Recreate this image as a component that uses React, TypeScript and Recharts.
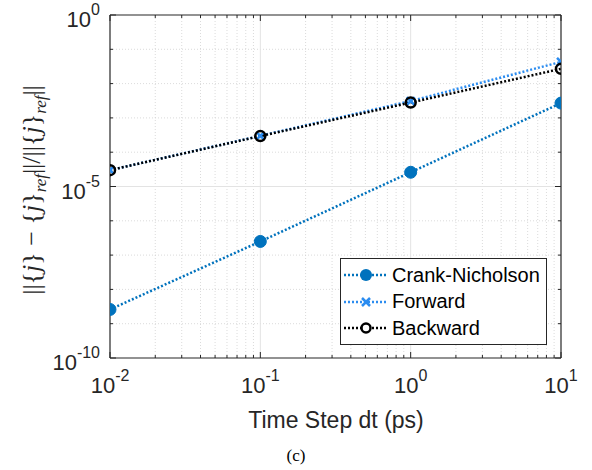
import React from 'react';
import { LineChart, Line, XAxis, YAxis, ReferenceLine } from 'recharts';

const timeSteps = [0.01, 0.1, 1, 10];
const crankNicholson = [2.6e-9, 2.5e-7, 2.6e-5, 2.7e-3];
const forward = [3.0e-5, 3.0e-4, 3.1e-3, 4.3e-2];
const backward = [3.0e-5, 2.95e-4, 2.8e-3, 2.7e-2];

const xMajor = [0.01, 0.1, 1, 10];
const xMinor = [
  0.02, 0.03, 0.04, 0.05, 0.06, 0.07, 0.08, 0.09,
  0.2, 0.3, 0.4, 0.5, 0.6, 0.7, 0.8, 0.9,
  2, 3, 4, 5, 6, 7, 8, 9,
];
const yMajor = [1e-10, 1e-5, 1];
const yMinor = [1e-9, 1e-8, 1e-7, 1e-6, 1e-4, 1e-3, 1e-2, 1e-1];

const rows = timeSteps.map((dt, i) => ({
  dt,
  cn: crankNicholson[i],
  fw: forward[i],
  bw: backward[i],
}));

const AXIS = '#262626';
const CN_COLOR = '#0072BD';
const FW_COLOR = '#2B8CF0';
const BW_COLOR = '#000000';
const FONT = 'Liberation Sans, Arial, sans-serif';
const SERIF = 'Liberation Serif, Times New Roman, serif';

function expOf(v: number) {
  return String(Math.round(Math.log10(v)));
}

function isMajor(v: number, list: number[]) {
  return list.some((m) => Math.abs(Math.log10(m) - Math.log10(v)) < 1e-6);
}

function BottomTick(props: any) {
  const { x, y, payload } = props;
  const major = isMajor(payload.value, xMajor);
  return (
    <g>
      <line x1={x} y1={y} x2={x} y2={y - (major ? 6 : 3)} stroke={AXIS} strokeWidth={1} />
      {major && (
        <text x={x} y={y + 35} textAnchor="middle" fontFamily={FONT} fontSize={22} fill={AXIS}>
          10<tspan dy={-12} fontSize={16}>{expOf(payload.value)}</tspan>
        </text>
      )}
    </g>
  );
}

function TopTick(props: any) {
  const { x, y, payload } = props;
  const major = isMajor(payload.value, xMajor);
  return <line x1={x} y1={y} x2={x} y2={y + (major ? 6 : 3)} stroke={AXIS} strokeWidth={1} />;
}

function LeftTick(props: any) {
  const { x, y, payload } = props;
  const major = isMajor(payload.value, yMajor);
  return (
    <g>
      <line x1={x} y1={y} x2={x + (major ? 6 : 3)} y2={y} stroke={AXIS} strokeWidth={1} />
      {major && (
        <text x={x - 10} y={y + 12} textAnchor="end" fontFamily={FONT} fontSize={22} fill={AXIS}>
          10<tspan dy={-12} fontSize={16}>{expOf(payload.value)}</tspan>
        </text>
      )}
    </g>
  );
}

function RightTick(props: any) {
  const { x, y, payload } = props;
  const major = isMajor(payload.value, yMajor);
  return <line x1={x} y1={y} x2={x - (major ? 6 : 3)} y2={y} stroke={AXIS} strokeWidth={1} />;
}

function CrossMarker(props: any) {
  const { cx, cy } = props;
  if (cx == null || cy == null) return null;
  const s = 4;
  return (
    <g stroke={FW_COLOR} strokeWidth={2.5}>
      <line x1={cx - s} y1={cy - s} x2={cx + s} y2={cy + s} />
      <line x1={cx - s} y1={cy + s} x2={cx + s} y2={cy - s} />
    </g>
  );
}

const legendItems = [
  { name: 'Crank-Nicholson', color: CN_COLOR, marker: 'dot' },
  { name: 'Forward', color: FW_COLOR, marker: 'x' },
  { name: 'Backward', color: BW_COLOR, marker: 'ring' },
];

function LegendBox() {
  return (
    <div
      style={{
        position: 'absolute',
        left: 340,
        top: 258,
        border: '1px solid #262626',
        background: '#fff',
        width: 207,
        height: 87,
        padding: '3px 0',
        fontFamily: FONT,
        fontSize: 20,
        color: '#000',
        boxSizing: 'border-box',
      }}
    >
      {legendItems.map((it) => (
        <div key={it.name} style={{ display: 'flex', alignItems: 'center', height: 26.5 }}>
          <svg width={50} height={20} style={{ marginLeft: 1 }}>
            <line x1={2} y1={10} x2={45} y2={10} stroke={it.color} strokeWidth={2.5} strokeDasharray="2 2" />
            {it.marker === 'dot' && <circle cx={24} cy={10} r={6} fill={it.color} />}
            {it.marker === 'x' && (
              <g stroke={it.color} strokeWidth={2.5}>
                <line x1={20} y1={6} x2={28} y2={14} />
                <line x1={20} y1={14} x2={28} y2={6} />
              </g>
            )}
            {it.marker === 'ring' && <circle cx={24} cy={10} r={4.5} fill="#fff" stroke={it.color} strokeWidth={2.5} />}
          </svg>
          <span>{it.name}</span>
        </div>
      ))}
    </div>
  );
}

export default function App() {
  const allX = [...xMajor, ...xMinor].sort((a, b) => a - b);
  const allY = [...yMajor, ...yMinor].sort((a, b) => a - b);
  const axisCommonX = {
    type: 'number' as const,
    scale: 'log' as const,
    domain: [0.01, 10],
    allowDataOverflow: true,
    ticks: allX,
    interval: 0,
    tickSize: 0,
    tickMargin: 0,
    height: 1,
    axisLine: { stroke: AXIS, strokeWidth: 1.2 },
    tickLine: false,
  };
  const axisCommonY = {
    type: 'number' as const,
    scale: 'log' as const,
    domain: [1e-10, 1],
    allowDataOverflow: true,
    ticks: allY,
    interval: 0,
    tickSize: 0,
    tickMargin: 0,
    width: 1,
    axisLine: { stroke: AXIS, strokeWidth: 1.2 },
    tickLine: false,
  };

  return (
    <div style={{ position: 'absolute', left: 0, top: 0, width: 592, height: 470, background: '#fff' }}>
      <LineChart width={592} height={470} data={rows} margin={{ top: 14, right: 30, bottom: 111, left: 109 }}>
        <XAxis xAxisId={0} dataKey="dt" orientation="bottom" {...axisCommonX} tick={<BottomTick />} />
        <XAxis xAxisId="top" dataKey="dt" orientation="top" {...axisCommonX} tick={<TopTick />} />
        <YAxis yAxisId={0} orientation="left" {...axisCommonY} tick={<LeftTick />} />
        <YAxis yAxisId="right" orientation="right" {...axisCommonY} tick={<RightTick />} />

        {xMinor.map((v) => (
          <ReferenceLine key={`xm${v}`} x={v} stroke="#d2d2d2" strokeWidth={0.8} strokeDasharray="1 2" />
        ))}
        {yMinor.map((v) => (
          <ReferenceLine key={`ym${v}`} y={v} stroke="#d2d2d2" strokeWidth={0.8} strokeDasharray="1 2" />
        ))}
        {xMajor.slice(1, -1).map((v) => (
          <ReferenceLine key={`xM${v}`} x={v} stroke="#e3e3e3" strokeWidth={1} />
        ))}
        {yMajor.slice(1, -1).map((v) => (
          <ReferenceLine key={`yM${v}`} y={v} stroke="#e3e3e3" strokeWidth={1} />
        ))}

        <Line
          dataKey="cn"
          stroke={CN_COLOR}
          strokeWidth={2.5}
          strokeDasharray="2 2"
          dot={{ r: 6, fill: CN_COLOR, stroke: CN_COLOR, strokeWidth: 1, strokeDasharray: '' }}
          isAnimationActive={false}
        />
        <Line
          dataKey="fw"
          stroke={FW_COLOR}
          strokeWidth={2.5}
          strokeDasharray="2 2"
          dot={<CrossMarker />}
          isAnimationActive={false}
        />
        <Line
          dataKey="bw"
          stroke={BW_COLOR}
          strokeWidth={2.5}
          strokeDasharray="2 2"
          dot={{ r: 5, fill: 'none', stroke: BW_COLOR, strokeWidth: 2.5, strokeDasharray: '' }}
          isAnimationActive={false}
        />
      </LineChart>
      <LegendBox />
      <svg
        width={592}
        height={470}
        style={{ position: 'absolute', left: 0, top: 0, pointerEvents: 'none' }}
      >
        <text
          transform="translate(40,190) rotate(-90)"
          textAnchor="middle"
          fontFamily={SERIF}
          fontSize={26}
          fill={AXIS}
        >
          {'||{'}
          <tspan fontStyle="italic">j</tspan>
          {'} − {'}
          <tspan fontStyle="italic">j</tspan>
          {'}'}
          <tspan fontStyle="italic" fontSize={17} dy={6}>ref</tspan>
          <tspan dy={-6}>{'||/||{'}</tspan>
          <tspan fontStyle="italic">j</tspan>
          {'}'}
          <tspan fontStyle="italic" fontSize={17} dy={6}>ref</tspan>
          <tspan dy={-6}>{'||'}</tspan>
        </text>
        <text x={336} y={428} textAnchor="middle" fontFamily={FONT} fontSize={23} fill={AXIS}>
          Time Step dt (ps)
        </text>
        <text x={296} y={461} textAnchor="middle" fontFamily={SERIF} fontSize={17} fill="#000">
          (c)
        </text>
      </svg>
    </div>
  );
}
